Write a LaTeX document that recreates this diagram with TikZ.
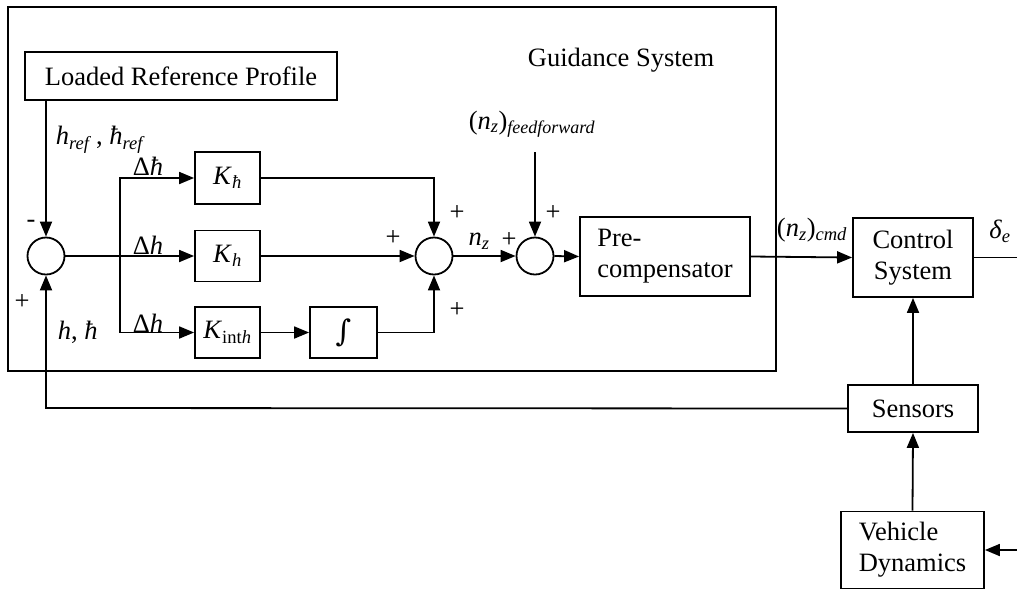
\documentclass[tikz,border=0pt]{standalone}
\usepackage{fontspec}
\setmainfont{Liberation Serif}
\newfontfamily\symf{DejaVu Serif}
\usetikzlibrary{arrows.meta,calc}
\newcommand\hb{\textit{ħ}}
\newcommand\hi{\textit{h}}
\newcommand\sbs[1]{\textsubscript{\textit{#1}}}
\begin{document}
\begin{tikzpicture}[x=1pt,y=-1pt,line width=1.8pt,
  every node/.style={font=\fontsize{26.5}{31}\selectfont},
  box/.style={draw,line width=1.8pt,inner sep=0pt},
  sumj/.style={draw,circle,line width=1.8pt,minimum size=37pt,inner sep=0pt},
  sig/.style={-{Triangle[length=15pt,width=12pt]}},
  lab/.style={inner sep=0pt}]
\useasboundingbox (0,0) rectangle (1017,590);

% guidance system frame
\draw (8,7) rectangle (776,371);
\node[lab] (gs) at (621,60) {Guidance System};

% blocks
\node[box,minimum width=312pt,minimum height=48pt] (lrp) at (181,76) {Loaded Reference Profile};
\node[sumj] (s1) at (46,256) {};
\node[box,minimum width=65pt,minimum height=52pt] (k1) at (227.5,178) {\textit{K}\sbs{ħ}};
\node[box,minimum width=65pt,minimum height=51pt] (k2) at (227.5,256) {\textit{K}\sbs{h}};
\node[box,minimum width=65pt,minimum height=51pt] (k3) at (227.5,332.5) {\textit{K}\textsubscript{int\textit{h}}};
\node[box,minimum width=67pt,minimum height=51pt] (int) at (343.5,332.5) {\symf\fontsize{30}{30}\selectfont ∫};
\node[sumj] (s2) at (434,256) {};
\node[sumj] (s3) at (535,256) {};
\node[box,minimum width=170pt,minimum height=79pt,align=left] (pre) at (665,256.5) {Pre-\\compensator};
\node[box,minimum width=120pt,minimum height=79pt,align=center] (ctl) at (913,257.5) {Control\\System};
\node[box,minimum width=130pt,minimum height=47pt] (sen) at (913,408.5) {Sensors};
\node[box,minimum width=143pt,minimum height=77pt,align=left] (veh) at (912.5,550) {Vehicle\\Dynamics};

% free ends and bends
\coordinate (ref) at (46,100);
\coordinate (br) at (120,256);
\coordinate (ff) at (535,152);
\coordinate (out) at (1017,257.5);
\coordinate (vin) at (1017,550);
\coordinate (fb) at (46,408);

% connectors
\draw[sig] (ref) -- (s1.north);
\draw[sig] (s1.east) -- (k2.west);
\draw[sig] (br) |- (k1.west);
\draw[sig] (br) |- (k3.west);
\draw[sig] (k3.east) -- (int.west);
\draw[sig] (k1.east) -| (s2.north);
\draw[sig] (k2.east) -- (s2.west);
\draw[sig] (int.east) -| (s2.south);
\draw[sig] (s2.east) -- (s3.west);
\draw[sig] (ff) -- (s3.north);
\draw[sig] (s3.east) -- (pre.west);
\draw[sig] (pre.east) -- (ctl.west);
\draw (ctl.east) -- (out);
\draw[sig] (sen.north) -- (ctl.south);
\draw[sig] (veh.north) -- (sen.south);
\draw[sig] (vin) -- (veh.east);
\draw[sig] (sen.west) -- (fb) -- (s1.south);

% signal labels
\node[lab,anchor=west] (lref) at (55,140) {\hi\sbs{ref}\,, \hb\sbs{ref}};
\node[lab] (lm) at (31,224) {-};
\node[lab] (lp) at (22,302) {+};
\node[lab,anchor=west] (lh) at (57,332) {\hi, \hb};
\node[lab] (d1) at (148,166) {Δ\hb};
\node[lab] (d2) at (148,245) {Δ\hi};
\node[lab] (d3) at (148,323) {Δ\hi};
\node[lab] (p1) at (457,213) {+};
\node[lab] (p2) at (393,238) {+};
\node[lab] (p3) at (457,310) {+};
\node[lab] (nz) at (479,241) {\textit{n}\sbs{z}};
\node[lab] (p4) at (509,240) {+};
\node[lab] (p5) at (553,213) {+};
\node[lab] (lff) at (532,124) {(\textit{n}\sbs{z})\sbs{\fontsize{18}{20}\selectfont feedforward}};
\node[lab] (lcmd) at (812,230) {(\textit{n}\sbs{z})\sbs{cmd}};
\node[lab] (lde) at (1000,231) {\textit{δ}\sbs{e}};
\end{tikzpicture}
\end{document}
